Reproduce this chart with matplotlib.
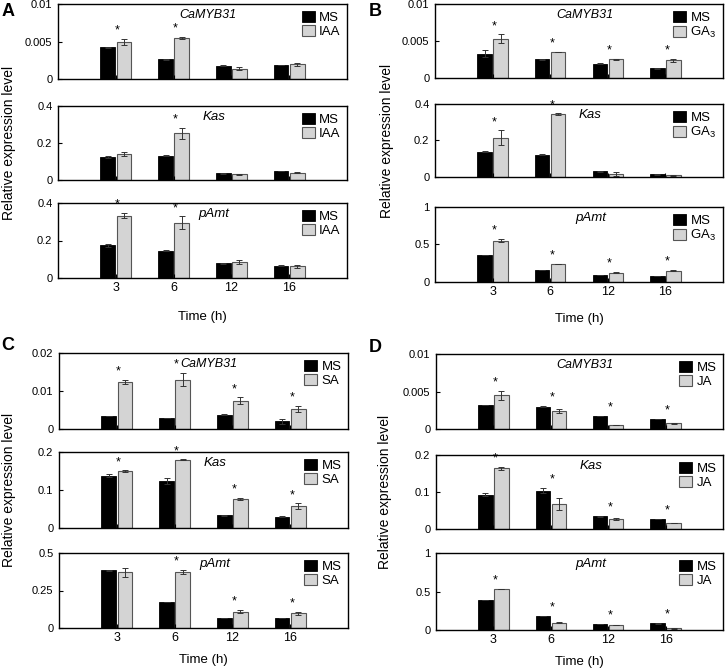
import numpy as np
import matplotlib.pyplot as plt
from matplotlib import font_manager

plt.rcParams['font.family'] = ['Liberation Sans', 'DejaVu Sans']
plt.rcParams['mathtext.fontset'] = 'custom'
plt.rcParams['mathtext.rm'] = 'Liberation Sans'

names = {f.name for f in font_manager.fontManager.ttflist}
narrow = 'Liberation Sans Narrow' if 'Liberation Sans Narrow' in names else 'Liberation Sans'

times = ['3', '6', '12', '16']
genes = ['CaMYB31', 'Kas', 'pAmt']

# panel A: IAA
a_ms = [[0.00425, 0.00265, 0.00177, 0.0019], [0.123, 0.131, 0.036, 0.049], [0.174, 0.146, 0.079, 0.065]]
a_ms_err = [[0.00005, 0.00005, 0.00005, 0.00003], [0.005, 0.002, 0.002, 0.002], [0.01, 0.002, 0.002, 0.002]]
a_tr = [[0.0050, 0.0055, 0.0014, 0.0020], [0.14, 0.252, 0.031, 0.040], [0.333, 0.294, 0.085, 0.062]]
a_tr_err = [[0.0004, 0.0001, 0.0002, 0.0002], [0.01, 0.03, 0.004, 0.004], [0.015, 0.035, 0.012, 0.006]]
a_star = [[1, 1, 0, 0], [0, 1, 0, 0], [1, 1, 0, 0]]

# panel B: GA3
b_ms = [[0.0033, 0.00253, 0.00195, 0.0013], [0.138, 0.123, 0.031, 0.014], [0.36, 0.156, 0.089, 0.084]]
b_ms_err = [[0.0005, 0.00003, 0.00003, 0.00003], [0.002, 0.002, 0.002, 0.001], [0.005, 0.002, 0.002, 0.002]]
b_tr = [[0.0053, 0.00353, 0.00253, 0.0024], [0.216, 0.345, 0.016, 0.01], [0.551, 0.24, 0.124, 0.151]]
b_tr_err = [[0.0006, 0.00003, 0.0001, 0.0002], [0.04, 0.003, 0.01, 0.002], [0.02, 0.005, 0.01, 0.01]]
b_star = [[1, 1, 1, 1], [1, 1, 0, 0], [1, 1, 1, 1]]

# panel C: SA
c_ms = [[0.0034, 0.0029, 0.0038, 0.002], [0.138, 0.124, 0.033, 0.03], [0.384, 0.173, 0.069, 0.067]]
c_ms_err = [[0.00005, 0.00005, 0.0001, 0.0006], [0.003, 0.008, 0.001, 0.001], [0.002, 0.002, 0.001, 0.001]]
c_tr = [[0.0124, 0.013, 0.0075, 0.0052], [0.15, 0.18, 0.076, 0.058], [0.373, 0.375, 0.109, 0.1]]
c_tr_err = [[0.0005, 0.0017, 0.0008, 0.0008], [0.002, 0.001, 0.003, 0.007], [0.03, 0.012, 0.012, 0.01]]
c_star = [[1, 1, 1, 1], [1, 1, 1, 1], [0, 1, 1, 1]]

# panel D: JA
d_ms = [[0.0032, 0.003, 0.00173, 0.00133], [0.092, 0.104, 0.034, 0.027], [0.388, 0.181, 0.082, 0.086]]
d_ms_err = [[0.00005, 0.00005, 0.00005, 0.00003], [0.004, 0.008, 0.001, 0.001], [0.003, 0.003, 0.002, 0.002]]
d_tr = [[0.0045, 0.00243, 0.00053, 0.00075], [0.164, 0.068, 0.027, 0.016], [0.534, 0.095, 0.065, 0.02]]
d_tr_err = [[0.0006, 0.0003, 0.00002, 0.0001], [0.004, 0.016, 0.002, 0.001], [0.003, 0.01, 0.003, 0.002]]
d_star = [[1, 1, 1, 1], [1, 1, 1, 1], [1, 1, 1, 1]]

a_ticks = [([0, 0.005, 0.01], ['0', '0.005', '0.01']), ([0, 0.2, 0.4], ['0', '0.2', '0.4']), ([0, 0.2, 0.4], ['0', '0.2', '0.4'])]
b_ticks = [([0, 0.005, 0.01], ['0', '0.005', '0.01']), ([0, 0.2, 0.4], ['0', '0.2', '0.4']), ([0, 0.5, 1], ['0', '0.5', '1'])]
c_ticks = [([0, 0.01, 0.02], ['0', '0.01', '0.02']), ([0, 0.1, 0.2], ['0', '0.1', '0.2']), ([0, 0.25, 0.5], ['0', '0.25', '0.5'])]
d_ticks = [([0, 0.005, 0.01], ['0', '0.005', '0.01']), ([0, 0.1, 0.2], ['0', '0.1', '0.2']), ([0, 0.5, 1], ['0', '0.5', '1'])]

W, H = 726, 671
fig = plt.figure(figsize=(W / 100, H / 100), dpi=100)

x = np.arange(1, 5)
bw = 0.25
gray = '#d4d4d4'


def draw_panel(left, right, rows, ms, ms_err, tr, tr_err, stars, ticks, trt, letter, lx, ly, ylab_x, time_y):
    for i, (top, bot) in enumerate(rows):
        ax = fig.add_axes([left / W, 1 - bot / H, (right - left) / W, (bot - top) / H])
        ymax = ticks[i][0][-1]
        ek = dict(elinewidth=0.7, capsize=2, capthick=0.7, ecolor='#333333')
        ax.bar(x - 0.14, ms[i], bw, yerr=ms_err[i], color='black', edgecolor='black',
               linewidth=0.6, error_kw=ek, label='MS')
        ax.bar(x + 0.14, tr[i], bw, yerr=tr_err[i], color=gray, edgecolor='#555555',
               linewidth=0.8, error_kw=ek, label=trt)
        for j in range(4):
            if stars[i][j]:
                y = max(ms[i][j] + ms_err[i][j], tr[i][j] + tr_err[i][j]) + 0.03 * ymax
                ax.text(x[j] + 0.03, y, '*', ha='center', va='bottom', fontsize=9)
        ax.set_xlim(0, 5)
        ax.set_ylim(0, ymax)
        ax.set_yticks(ticks[i][0])
        ax.set_yticklabels(ticks[i][1])
        ax.set_xticks(x)
        ax.tick_params(direction='in', length=3, width=0.8, labelsize=8, pad=4)
        if i < 2:
            ax.set_xticklabels([])
        else:
            ax.set_xticklabels(times, fontsize=9)
            ax.tick_params(axis='x', pad=3)
        for s in ax.spines.values():
            s.set_linewidth(1.0)
        if i == 0:
            ax.text(0.52, 0.93, genes[i], transform=ax.transAxes, ha='center', va='top',
                    fontsize=9, style='italic', family=narrow)
        else:
            ax.text(0.54, 0.93, genes[i], transform=ax.transAxes, ha='center', va='top',
                    fontsize=9.5, style='italic')
        ax.legend(loc='upper right', frameon=False, fontsize=9.5, handlelength=1.0,
                  handleheight=0.9, handletextpad=0.3, labelspacing=0.1,
                  borderaxespad=0.3, borderpad=0.2)
    mid = (rows[1][0] + rows[1][1]) / 2
    fig.text(ylab_x / W, 1 - mid / H, 'Relative expression level', rotation=90,
             ha='center', va='center', fontsize=10)
    fig.text(lx / W, 1 - ly / H, letter, fontsize=13, fontweight='bold', ha='center', va='center')
    fig.text((left + right) / 2 / W, 1 - time_y / H, 'Time (h)', ha='center', va='center', fontsize=9.5)


draw_panel(58, 347, [(4, 79), (106, 180), (203, 278)], a_ms, a_ms_err, a_tr, a_tr_err,
           a_star, a_ticks, 'IAA', 'A', 8, 11, 9, 317)
draw_panel(435, 723, [(4, 78), (104, 177), (207, 282)], b_ms, b_ms_err, b_tr, b_tr_err,
           b_star, b_ticks, 'GA$_3$', 'B', 375, 11, 387, 319)
draw_panel(59, 348, [(353, 429), (452, 528), (553, 628)], c_ms, c_ms_err, c_tr, c_tr_err,
           c_star, c_ticks, 'SA', 'C', 8, 346, 9, 660)
draw_panel(436, 723, [(354, 429), (455, 529), (553, 630)], d_ms, d_ms_err, d_tr, d_tr_err,
           d_star, d_ticks, 'JA', 'D', 375, 348, 385, 662)

fig.savefig('out.png', dpi=100)
